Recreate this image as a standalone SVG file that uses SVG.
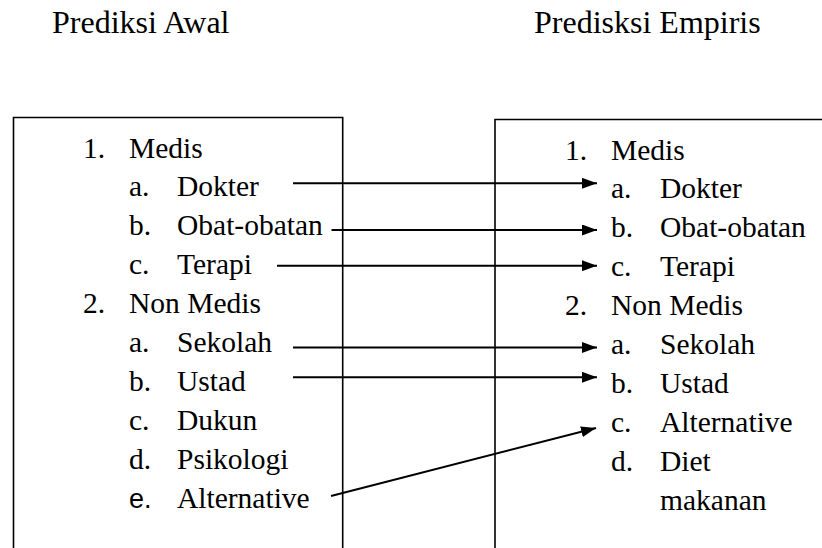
<svg xmlns="http://www.w3.org/2000/svg" width="822" height="548" viewBox="0 0 822 548">
<style>
text{font-family:"Liberation Serif","Times New Roman",serif;font-size:29.5px;fill:#000}
text.title{font-size:32px}
text.sans{font-family:"Liberation Sans",Arial,sans-serif;font-size:27px}
.box{fill:none;stroke:#000;stroke-width:1.6}
.conn{stroke:#000;stroke-width:2;fill:none;marker-end:url(#ah)}
</style>
<defs>
<marker id="ah" viewBox="0 0 15 11" refX="15" refY="5.5" markerWidth="15" markerHeight="11" markerUnits="userSpaceOnUse" orient="auto">
<path d="M0,0 L15,5.5 L0,11 Z" fill="#000"/>
</marker>
</defs>
<rect width="822" height="548" fill="#fff"/>
<text class="title" x="52" y="33">Prediksi Awal</text>
<text class="title" x="534" y="33">Predisksi Empiris</text>
<g id="left-box">
<path class="box" d="M13.5,560 V117.5 H342.7 V560"/>
<text x="83" y="157.5">1.</text><text x="129" y="157.5">Medis</text>
<text x="129" y="196.4">a.</text><text x="177" y="196.4">Dokter</text>
<text x="129" y="235.3">b.</text><text x="177" y="235.3">Obat-obatan</text>
<text x="129" y="274.2">c.</text><text x="177" y="274.2">Terapi</text>
<text x="83" y="313.1">2.</text><text x="129" y="313.1">Non Medis</text>
<text x="129" y="352">a.</text><text x="177" y="352">Sekolah</text>
<text x="129" y="390.9">b.</text><text x="177" y="390.9">Ustad</text>
<text x="129" y="429.8">c.</text><text x="177" y="429.8">Dukun</text>
<text x="129" y="468.7">d.</text><text x="177" y="468.7">Psikologi</text>
<text class="sans" x="129" y="507.6">e.</text><text x="177" y="507.6">Alternative</text>
</g>
<g id="right-box">
<path class="box" d="M495,560 V119.5 H830"/>
<text x="565" y="159.5">1.</text><text x="611" y="159.5">Medis</text>
<text x="611" y="198.4">a.</text><text x="660" y="198.4">Dokter</text>
<text x="611" y="237.3">b.</text><text x="660" y="237.3">Obat-obatan</text>
<text x="611" y="276.2">c.</text><text x="660" y="276.2">Terapi</text>
<text x="565" y="315.1">2.</text><text x="611" y="315.1">Non Medis</text>
<text x="611" y="354">a.</text><text x="660" y="354">Sekolah</text>
<text x="611" y="392.9">b.</text><text x="660" y="392.9">Ustad</text>
<text x="611" y="431.8">c.</text><text x="660" y="431.8">Alternative</text>
<text x="611" y="470.7">d.</text><text x="660" y="470.7">Diet</text>
<text x="660" y="509.6">makanan</text>
</g>
<g id="connectors">
<line class="conn" x1="293" y1="183.3" x2="597" y2="183.3"/>
<line class="conn" x1="331.5" y1="230" x2="597" y2="230"/>
<line class="conn" x1="277" y1="265.7" x2="597" y2="265.7"/>
<line class="conn" x1="293" y1="347.5" x2="597" y2="347.5"/>
<line class="conn" x1="293" y1="377.3" x2="597" y2="377.3"/>
<line class="conn" x1="331" y1="496" x2="596" y2="428"/>
</g>
</svg>
